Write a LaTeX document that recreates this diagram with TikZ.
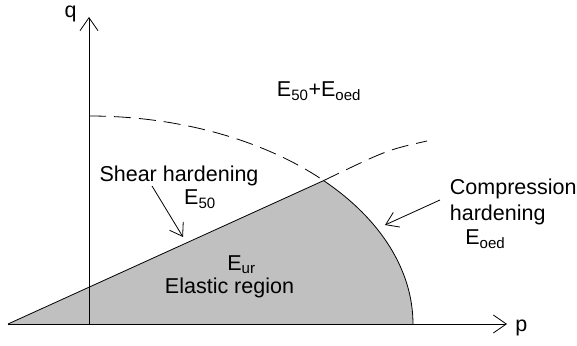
\documentclass[tikz,border=0pt]{standalone}
\usepackage{fontspec}
\setmainfont{Liberation Sans}
\usetikzlibrary{arrows.meta}

\definecolor{regiongray}{RGB}{192,192,192}

\begin{document}
\begin{tikzpicture}[
        x=1pt, y=1pt,
        line width=0.8pt,
        axis/.style={-{Straight Barb[length=13pt,width=18pt]}},
        pointer/.style={-{Straight Barb[length=12pt,width=16pt]}},
        lbl/.style={font=\fontsize{21.5}{25}\selectfont, inner sep=0pt, anchor=base},
        capline/.style={dash pattern=on 17pt off 8pt}
    ]
    \useasboundingbox (0,0) rectangle (577,345);

    % key points
    \coordinate (o) at (8,21);
    \coordinate (qfoot) at (89,21);
    \coordinate (qtop) at (89,328);
    \coordinate (pend) at (507,21);
    \coordinate (apex) at (89,229);
    \coordinate (cross) at (323.6,164.4);
    \coordinate (shearend) at (427,204);

    % elastic region
    \fill[regiongray] (o) -- (cross)
        arc[start angle=43.6, end angle=0, x radius=324, y radius=208] -- cycle;
    \draw (o) -- (cross)
        arc[start angle=43.6, end angle=0, x radius=324, y radius=208];

    % dashed yield lines
    \draw[capline] (apex)
        arc[start angle=90, end angle=43.6, x radius=324, y radius=208];
    \draw[capline] (cross) .. controls (387,195) .. (shearend);

    % axes
    \draw[axis] (o) -- (pend);
    \draw[axis] (qfoot) -- (qtop);
    \node[lbl, anchor=base east] (qlbl) at (77,327) {q};
    \node[lbl, anchor=base west] (plbl) at (515,14) {p};

    % plastic region
    \node[lbl] (both) at (319,248) {E\textsubscript{50}+E\textsubscript{oed}};

    % shear hardening
    \node[lbl] (shear) at (179,163) {Shear hardening};
    \node[lbl] (eshear) at (200,140) {E\textsubscript{50}};
    \coordinate (shtail) at (152,159);
    \coordinate (shhead) at (183,108);
    \draw[pointer] (shtail) -- (shhead);

    % elastic
    \node[lbl] (eur) at (241.5,74.5) {E\textsubscript{ur}};
    \node[lbl] (elastic) at (229.5,52) {Elastic region};

    % compression hardening
    \node[lbl, anchor=base west] (comp) at (449.5,150) {Compression};
    \node[lbl, anchor=base west] (hard) at (449.5,124) {hardening};
    \node[lbl, anchor=base west] (ecomp) at (465,100) {E\textsubscript{oed}};
    \coordinate (cptail) at (440,145);
    \coordinate (cphead) at (385,120);
    \draw[pointer] (cptail) -- (cphead);

\end{tikzpicture}
\end{document}
